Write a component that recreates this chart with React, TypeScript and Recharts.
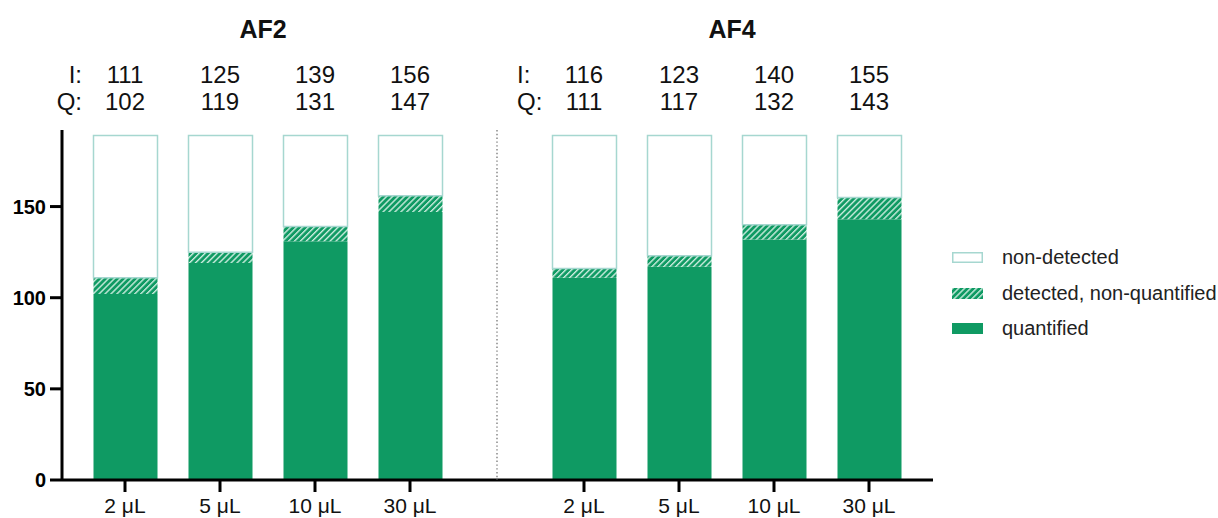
import React from 'react';
import { BarChart, Bar, XAxis, YAxis } from 'recharts';

// ---- data ----
const DOSES = ['2 μL', '5 μL', '10 μL', '30 μL'];
const TOTAL_PROTEINS = 189;
const AF2_IDENTIFIED = [111, 125, 139, 156];
const AF2_QUANTIFIED = [102, 119, 131, 147];
const AF4_IDENTIFIED = [116, 123, 140, 155];
const AF4_QUANTIFIED = [111, 117, 132, 143];
const Y_TICKS = [0, 50, 100, 150];
const Y_MAX = 192;

// ---- styling ----
const FONT = '"Liberation Sans", Arial, Helvetica, sans-serif';
const GREEN = '#0f9a63';
const STRIPE = '#d9f2e7';
const OUTLINE = '#a6d7d0';
const TITLE_Y = 38;
const I_ROW_Y = 83;
const Q_ROW_Y = 110;
const CHART_H = 518;

const SERIES = [
  { key: 'nonDetected', name: 'non-detected' },
  { key: 'detectedOnly', name: 'detected, non-quantified' },
  { key: 'quantified', name: 'quantified' },
];

type Row = {
  dose: string;
  identified: number;
  quantified: number;
  detectedOnly: number;
  nonDetected: number;
};

const buildRows = (identified: number[], quantified: number[]): Row[] =>
  DOSES.map((dose, i) => ({
    dose,
    identified: identified[i],
    quantified: quantified[i],
    detectedOnly: identified[i] - quantified[i],
    nonDetected: TOTAL_PROTEINS - identified[i],
  }));

const AF2_ROWS = buildRows(AF2_IDENTIFIED, AF2_QUANTIFIED);
const AF4_ROWS = buildRows(AF4_IDENTIFIED, AF4_QUANTIFIED);

type PrefixStyle = { anchor: 'start' | 'end'; dx: number };

const makeCountTick = (rows: Row[], prefix: PrefixStyle) => (props: any) => {
  const { x, payload } = props;
  const row = rows.find((r) => r.dose === payload.value);
  if (!row) return <g />;
  const txt = { fontFamily: FONT, fontSize: 24, fill: '#111' };
  return (
    <g>
      {row === rows[0] && (
        <>
          <text x={x + prefix.dx} y={I_ROW_Y} textAnchor={prefix.anchor} {...txt}>I:</text>
          <text x={x + prefix.dx} y={Q_ROW_Y} textAnchor={prefix.anchor} {...txt}>Q:</text>
        </>
      )}
      <text x={x} y={I_ROW_Y} textAnchor="middle" {...txt}>{row.identified}</text>
      <text x={x} y={Q_ROW_Y} textAnchor="middle" {...txt}>{row.quantified}</text>
    </g>
  );
};

type PanelProps = {
  id: string;
  title: string;
  titleX: number;
  rows: Row[];
  left: number;
  width: number;
  mainAxis: boolean;
  padding: { left: number; right: number };
  prefix: PrefixStyle;
};

const Panel = ({ id, title, titleX, rows, left, width, mainAxis, padding, prefix }: PanelProps) => (
  <div style={{ position: 'absolute', left, top: 0 }}>
    <BarChart
      width={width}
      height={CHART_H}
      data={rows}
      margin={{ top: 0, right: 0, bottom: 0, left: 0 }}
      barSize={64}
    >
      <defs>
        <pattern id={`hatch-${id}`} patternUnits="userSpaceOnUse" width="4.2" height="4.2" patternTransform="rotate(45)">
          <rect width="4.2" height="4.2" fill={GREEN} />
          <line x1="0.7" y1="0" x2="0.7" y2="4.2" stroke={STRIPE} strokeWidth="1.3" />
        </pattern>
      </defs>
      <text x={titleX} y={TITLE_Y} textAnchor="middle" fontFamily={FONT} fontSize={25} fontWeight={700} fill="#111">
        {title}
      </text>
      <XAxis
        xAxisId="counts"
        orientation="top"
        dataKey="dose"
        height={130}
        padding={padding}
        axisLine={false}
        tickLine={false}
        interval={0}
        tick={makeCountTick(rows, prefix)}
      />
      <XAxis
        dataKey="dose"
        height={38}
        padding={padding}
        interval={0}
        axisLine={{ stroke: '#000', strokeWidth: 3 }}
        tickLine={{ stroke: '#000', strokeWidth: 3 }}
        tickSize={12}
        tickMargin={6}
        tick={{ fill: '#111', fontSize: 21, fontFamily: FONT }}
      />
      {mainAxis ? (
        <YAxis
          width={62}
          domain={[0, Y_MAX]}
          ticks={Y_TICKS}
          interval={0}
          axisLine={{ stroke: '#000', strokeWidth: 3 }}
          tickLine={{ stroke: '#000', strokeWidth: 3 }}
          tickSize={12}
          tickMargin={4}
          tick={{ fill: '#000', fontSize: 20, fontWeight: 700, fontFamily: FONT }}
        />
      ) : (
        <YAxis
          width={7}
          domain={[0, Y_MAX]}
          ticks={Y_TICKS}
          tick={false}
          tickLine={false}
          axisLine={{ stroke: '#808080', strokeWidth: 1.4, strokeDasharray: '1.4 2.4' }}
        />
      )}
      <Bar dataKey="quantified" stackId="s" fill={GREEN} isAnimationActive={false} />
      <Bar dataKey="detectedOnly" stackId="s" fill={`url(#hatch-${id})`} isAnimationActive={false} />
      <Bar dataKey="nonDetected" stackId="s" fill="#fff" stroke={OUTLINE} strokeWidth={1.5} isAnimationActive={false} />
    </BarChart>
  </div>
);

const Swatch = ({ kind }: { kind: string }) => (
  <svg width={31} height={11} style={{ display: 'block' }}>
    <defs>
      <pattern id="legend-hatch" patternUnits="userSpaceOnUse" width="4.2" height="4.2" patternTransform="rotate(45)">
        <rect width="4.2" height="4.2" fill={GREEN} />
        <line x1="0.7" y1="0" x2="0.7" y2="4.2" stroke={STRIPE} strokeWidth="1.3" />
      </pattern>
    </defs>
    {kind === 'nonDetected' && <rect x={0.75} y={0.75} width={29.5} height={9.5} fill="#fff" stroke={OUTLINE} strokeWidth={1.5} />}
    {kind === 'detectedOnly' && <rect x={0} y={0} width={31} height={11} fill="url(#legend-hatch)" />}
    {kind === 'quantified' && <rect x={0} y={0} width={31} height={11} fill={GREEN} />}
  </svg>
);

const LEGEND_ROW_Y = [257, 293, 328];

export default function App() {
  return (
    <div style={{ position: 'absolute', left: 0, top: 0, width: 1218, height: CHART_H, background: '#fff', fontFamily: FONT }}>
      <Panel
        id="af2"
        title="AF2"
        titleX={263}
        rows={AF2_ROWS}
        left={0}
        width={497}
        mainAxis
        padding={{ left: 15.5, right: 39.5 }}
        prefix={{ anchor: 'end', dx: -43 }}
      />
      <Panel
        id="af4"
        title="AF4"
        titleX={242}
        rows={AF4_ROWS}
        left={490}
        width={443}
        mainAxis={false}
        padding={{ left: 39.5, right: 16.5 }}
        prefix={{ anchor: 'start', dx: -67 }}
      />
      {SERIES.map((s, i) => (
        <div
          key={s.key}
          style={{
            position: 'absolute',
            left: 952,
            top: LEGEND_ROW_Y[i] - 13,
            height: 26,
            display: 'flex',
            alignItems: 'center',
            whiteSpace: 'nowrap',
          }}
        >
          <Swatch kind={s.key} />
          <span style={{ marginLeft: 19, fontSize: 20, color: '#222' }}>{s.name}</span>
        </div>
      ))}
    </div>
  );
}
